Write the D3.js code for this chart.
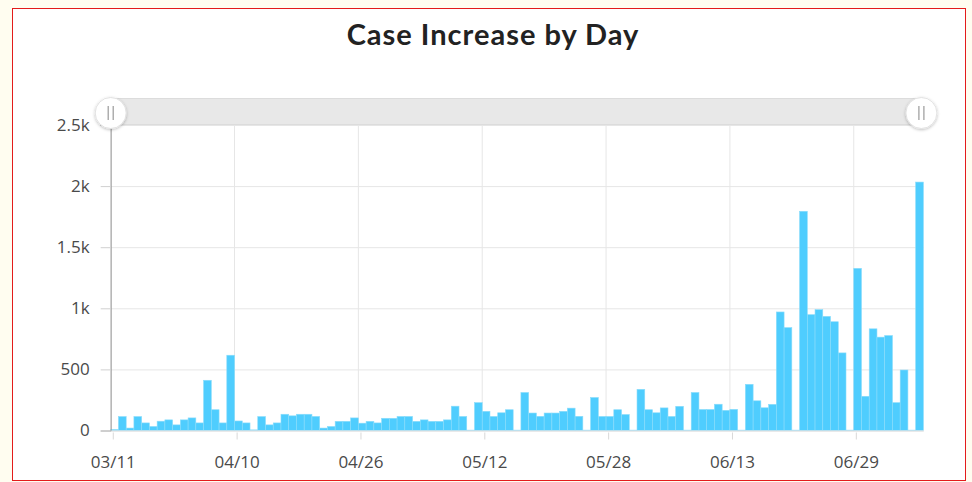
<!DOCTYPE html>
<html>
<head>
<meta charset="utf-8">
<script src="https://cdn.jsdelivr.net/npm/d3@7"></script>
<style>
  html, body { margin: 0; padding: 0; background: #fffdf0; }
  svg { display: block; }
  .axis text { font-family: "Open Sans", sans-serif; font-size: 17px; fill: #4a4a4a; }
  .title { font-family: Lato, sans-serif; font-weight: 700; font-size: 29px; letter-spacing: 1px; fill: #222; }
</style>
</head>
<body>
<svg id="chart" width="972" height="482"></svg>
<script>
// categories (day labels as shown on the category axis)
var days = [
  "03/11","03/13","03/15","03/17","03/19","03/21","03/23","03/25","03/27","03/29",
  "03/31","04/02","04/04","04/06","04/07","04/08","04/10","04/11","04/12","04/13",
  "04/14","04/15","04/16","04/17","04/18","04/19","04/20","04/21","04/22","04/23",
  "04/24","04/25","04/26","04/27","04/28","04/29","04/30","05/01","05/02","05/03",
  "05/04","05/05","05/06","05/07","05/08","05/09","05/10","05/11","05/12","05/13",
  "05/14","05/15","05/16","05/17","05/18","05/19","05/20","05/21","05/22","05/23",
  "05/24","05/25","05/26","05/27","05/28","05/29","05/30","05/31","06/01","06/02",
  "06/03","06/04","06/05","06/06","06/07","06/08","06/09","06/10","06/11","06/12",
  "06/13","06/14","06/15","06/16","06/17","06/18","06/19","06/20","06/21","06/22",
  "06/23","06/24","06/25","06/26","06/27","06/28","06/29","06/30","07/01","07/02",
  "07/03","07/04","07/05","07/06","07/07"
];

// new cases per day
var cases = [
  8, 114, 20, 114, 62, 33, 76, 87, 46, 87,
  103, 62, 411, 170, 62, 616, 78, 62, 5, 114,
  46, 62, 133, 120, 133, 133, 115, 20, 33, 75,
  75, 103, 60, 75, 62, 100, 100, 115, 115, 75,
  87, 75, 75, 87, 199, 115, 3, 228, 157, 115,
  145, 170, 3, 311, 143, 116, 143, 143, 157, 183,
  116, 3, 270, 115, 115, 170, 131, 3, 337, 170,
  145, 185, 115, 198, 3, 311, 172, 172, 215, 165,
  173, 3, 378, 243, 186, 214, 970, 842, 3, 1794,
  948, 989, 934, 890, 635, 3, 1327, 280, 832, 764,
  777, 228, 495, 3, 2033
];

var xTicks = ["03/11","04/10","04/26","05/12","05/28","06/13","06/29"];
var yTicks = [0, 500, 1000, 1500, 2000, 2500];
var yTickLabels = ["0","500","1k","1.5k","2k","2.5k"];

var data = days.map(function(d, i) { return {day: d, value: cases[i]}; });

var svg = d3.select("#chart");
var margin = {left: 110.7, right: 48.6, top: 125, bottom: 51.5};
var width = 972 - margin.left - margin.right;
var height = 482 - margin.top - margin.bottom;

// frame
svg.append("rect")
  .attr("x", 12.5).attr("y", 8.5)
  .attr("width", 953).attr("height", 472)
  .attr("fill", "#fff")
  .attr("stroke", "#e31b1b")
  .attr("stroke-width", 1);

svg.append("text")
  .attr("class", "title")
  .attr("x", 493).attr("y", 45)
  .attr("text-anchor", "middle")
  .text("Case Increase by Day");

var x = d3.scaleBand().domain(days).range([0, width]).padding(0);
var y = d3.scaleLinear().domain([0, 2500]).range([height, 0]);
var off = x.bandwidth() / 3;

var g = svg.append("g")
  .attr("transform", "translate(" + margin.left + "," + margin.top + ")");

// horizontal grid
g.append("g")
  .attr("class", "grid")
  .call(d3.axisLeft(y).tickValues(yTicks).tickSize(-width).tickFormat(""))
  .call(function(s) {
    s.select(".domain").remove();
    s.selectAll("line").attr("stroke", "#e6e6e6");
  });

// vertical grid at every labelled category
g.selectAll(".vgrid")
  .data(xTicks)
  .enter().append("line")
  .attr("class", "vgrid")
  .attr("x1", function(d) { return x(d); })
  .attr("x2", function(d) { return x(d); })
  .attr("y1", 0).attr("y2", height)
  .attr("stroke", "#e6e6e6");

// bars
g.selectAll(".bar")
  .data(data)
  .enter().append("rect")
  .attr("class", "bar")
  .attr("x", function(d) { return x(d.day); })
  .attr("width", x.bandwidth())
  .attr("y", function(d) { return y(d.value); })
  .attr("height", function(d) { return height - y(d.value); })
  .attr("fill", "#4fcdfe")
  .attr("stroke", "#8adcfb")
  .attr("stroke-width", 0.6);

// y axis
g.append("g")
  .attr("class", "axis")
  .call(d3.axisLeft(y).tickValues(yTicks).tickSize(10).tickPadding(11)
    .tickFormat(function(d, i) { return yTickLabels[i]; }))
  .call(function(s) {
    s.select(".domain").attr("stroke", "#9a9a9a");
    s.selectAll(".tick line").attr("stroke", "#d0d0d0");
  });

// x axis
g.append("g")
  .attr("class", "axis")
  .attr("transform", "translate(0," + height + ")")
  .call(d3.axisBottom(x).tickValues(xTicks).tickSize(9).tickPadding(16).tickSizeOuter(0))
  .call(function(s) {
    s.select(".domain").attr("stroke", "#e0e0e0");
    s.selectAll(".tick").attr("transform", function(d) { return "translate(" + (x(d) + off) + ",0)"; });
    s.selectAll(".tick line").attr("stroke", "#d8d8d8").attr("y1", 2);
  });

// scrollbar
var defs = svg.append("defs");
var f = defs.append("filter").attr("id", "shadow").attr("x", "-50%").attr("y", "-50%")
  .attr("width", "200%").attr("height", "200%");
f.append("feDropShadow").attr("dx", 0).attr("dy", 1).attr("stdDeviation", 1.5)
  .attr("flood-color", "#000").attr("flood-opacity", 0.25);

var sb = svg.append("g").attr("transform", "translate(" + margin.left + ",0)");
sb.append("rect")
  .attr("x", 0).attr("y", 98.5)
  .attr("width", width - 2).attr("height", 26)
  .attr("fill", "#e8e8e8")
  .attr("stroke", "#dcdcdc");

[0, width - 2].forEach(function(cx) {
  var grip = sb.append("g").attr("transform", "translate(" + cx + ",113)");
  grip.append("circle").attr("r", 15.5).attr("fill", "#fff")
    .attr("stroke", "#e2e2e2").attr("filter", "url(#shadow)");
  [-2.5, 2.5].forEach(function(dx) {
    grip.append("line").attr("x1", dx).attr("x2", dx).attr("y1", -7).attr("y2", 7)
      .attr("stroke", "#9a9a9a").attr("stroke-width", 1.2);
  });
});
</script>
</body>
</html>
